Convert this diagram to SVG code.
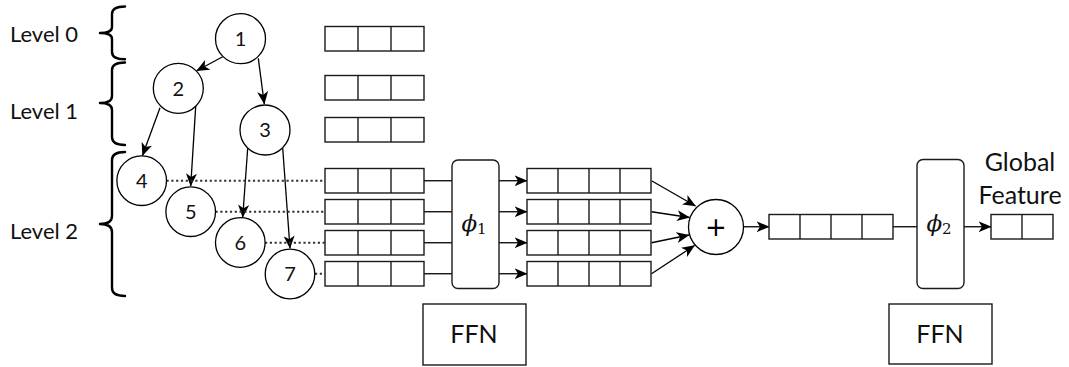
<svg xmlns="http://www.w3.org/2000/svg" width="1069" height="367" viewBox="0 0 1069 367">
<defs>
<marker id="arr" markerUnits="userSpaceOnUse" markerWidth="13" markerHeight="11" viewBox="0 0 13 11" refX="12.5" refY="5.5" orient="auto">
<path d="M0,0 L13,5.5 L0,11 L3.5,5.5 z" fill="#000"/>
</marker>
<g id="cell3">
<rect x="0" y="0" width="99" height="24.5"/>
<line x1="33" y1="0" x2="33" y2="24.5"/>
<line x1="66" y1="0" x2="66" y2="24.5"/>
</g>
<g id="cell4">
<rect x="0" y="0" width="124" height="24.5"/>
<line x1="31" y1="0" x2="31" y2="24.5"/>
<line x1="62" y1="0" x2="62" y2="24.5"/>
<line x1="93" y1="0" x2="93" y2="24.5"/>
</g>
</defs>
<style>
.b{fill:#fff;stroke:#1a1a1a;stroke-width:1.4}
.c{fill:#fff;stroke:#000;stroke-width:1.3}
.br{fill:none;stroke:#000;stroke-width:2.4;stroke-linecap:round;stroke-linejoin:round}
.lv{font-family:Lato,"Noto Sans",sans-serif;font-size:22px;fill:#111}
.lb{font-family:Lato,"Noto Sans",sans-serif;font-size:25px;fill:#111;text-anchor:middle}
.nd{font-family:Lato,"Noto Sans",sans-serif;font-size:20px;fill:#111;text-anchor:middle}
.ph{font-family:"DejaVu Serif",serif;font-style:italic;font-size:23px;fill:#111;text-anchor:middle}
.sub{font-style:normal;font-size:15px}
.a{fill:none;stroke:#000;stroke-width:1.3;marker-end:url(#arr)}
.l{fill:none;stroke:#000;stroke-width:1.3}
.d{fill:none;stroke:#333;stroke-width:2;stroke-dasharray:2.2 2.6}
</style>

<g id="levels">
<text class="lv" x="10" y="41.7">Level 0</text>
<text class="lv" x="10" y="118.7">Level 1</text>
<text class="lv" x="10" y="239.3">Level 2</text>
<path class="br" d="M125,6.5 Q112,6.5 112,14 L112,27 Q112,33 100,33 Q112,33 112,39 L112,52 Q112,59.3 125,59.3"/>
<path class="br" d="M125,62.5 Q112,62.5 112,70 L112,96 Q112,103 100,103 Q112,103 112,110 L112,137 Q112,145 125,145"/>
<path class="br" d="M125,152 Q112,152 112,160 L112,216 Q112,224 100,224 Q112,224 112,232 L112,288 Q112,296 125,296"/>
</g>

<g id="connectors">
<line class="a" x1="222.7" y1="56.7" x2="196.7" y2="70.7"/>
<line class="a" x1="258.3" y1="58.3" x2="264.3" y2="104"/>
<line class="a" x1="160" y1="107.7" x2="142.5" y2="155.5"/>
<line class="a" x1="195.7" y1="106" x2="190.7" y2="186"/>
<line class="a" x1="247.7" y1="148.3" x2="242.7" y2="217.3"/>
<line class="a" x1="282.7" y1="148.3" x2="290" y2="248.3"/>
<line class="d" x1="166.5" y1="180.75" x2="325" y2="180.75"/>
<line class="d" x1="215.5" y1="211.75" x2="325" y2="211.75"/>
<line class="d" x1="265" y1="242.75" x2="325" y2="242.75"/>
<line class="d" x1="315" y1="273.75" x2="325" y2="273.75"/>
<line class="l" x1="424" y1="180.75" x2="452" y2="180.75"/>
<line class="l" x1="424" y1="211.75" x2="452" y2="211.75"/>
<line class="l" x1="424" y1="242.75" x2="452" y2="242.75"/>
<line class="l" x1="424" y1="273.75" x2="452" y2="273.75"/>
<line class="a" x1="499" y1="180.75" x2="527" y2="180.75"/>
<line class="a" x1="499" y1="211.75" x2="527" y2="211.75"/>
<line class="a" x1="499" y1="242.75" x2="527" y2="242.75"/>
<line class="a" x1="499" y1="273.75" x2="527" y2="273.75"/>
<line class="a" x1="651.5" y1="180.75" x2="695.5" y2="206"/>
<line class="a" x1="651.5" y1="211.75" x2="689.5" y2="217.5"/>
<line class="a" x1="651.5" y1="242.75" x2="689" y2="235"/>
<line class="a" x1="651.5" y1="273.75" x2="694.5" y2="245.5"/>
<line class="a" x1="743.5" y1="226.75" x2="769" y2="226.75"/>
<line class="l" x1="893" y1="226.75" x2="917" y2="226.75"/>
<line class="a" x1="964" y1="226.75" x2="991" y2="226.75"/>
</g>

<g id="node1"><circle class="c" cx="240.5" cy="38.7" r="25"/><text class="nd" x="240.5" y="46">1</text></g>
<g id="node2"><circle class="c" cx="178.3" cy="88.3" r="25"/><text class="nd" x="178.3" y="95.6">2</text></g>
<g id="node3"><circle class="c" cx="265" cy="130" r="25"/><text class="nd" x="265" y="137.3">3</text></g>
<g id="node4"><circle class="c" cx="141.7" cy="180.7" r="24.8"/><text class="nd" x="141.7" y="188">4</text></g>
<g id="node5"><circle class="c" cx="190.7" cy="211.7" r="24.8"/><text class="nd" x="190.7" y="219">5</text></g>
<g id="node6"><circle class="c" cx="240.3" cy="242.5" r="24.8"/><text class="nd" x="240.3" y="249.8">6</text></g>
<g id="node7"><circle class="c" cx="290" cy="274" r="24.8"/><text class="nd" x="290" y="281.3">7</text></g>

<g id="emb0" class="b"><use href="#cell3" x="325" y="26.5"/></g>
<g id="emb1" class="b"><use href="#cell3" x="325" y="75.5"/></g>
<g id="emb2" class="b"><use href="#cell3" x="325" y="117.5"/></g>
<g id="emb3" class="b"><use href="#cell3" x="325" y="168.5"/></g>
<g id="emb4" class="b"><use href="#cell3" x="325" y="199.5"/></g>
<g id="emb5" class="b"><use href="#cell3" x="325" y="230.5"/></g>
<g id="emb6" class="b"><use href="#cell3" x="325" y="261.5"/></g>

<g id="phi1"><rect class="b" x="452" y="160" width="47" height="128.5" rx="6"/><text class="ph" x="474" y="230.5">ϕ<tspan class="sub" dy="3">1</tspan></text></g>
<g id="ffn1"><rect class="b" x="423" y="304" width="103" height="61"/><text class="lb" x="474" y="342.5">FFN</text></g>

<g id="hid0" class="b"><use href="#cell4" x="527" y="168.5"/></g>
<g id="hid1" class="b"><use href="#cell4" x="527" y="199.5"/></g>
<g id="hid2" class="b"><use href="#cell4" x="527" y="230.5"/></g>
<g id="hid3" class="b"><use href="#cell4" x="527" y="261.5"/></g>

<g id="plus"><circle class="c" cx="716" cy="227" r="27.5"/><text x="716" y="236" style="font-family:'DejaVu Sans',sans-serif;font-size:26px;text-anchor:middle;fill:#000">+</text></g>

<g id="sum" class="b"><use href="#cell4" x="769" y="214.5"/></g>

<g id="phi2"><rect class="b" x="917" y="159.5" width="47" height="129" rx="6"/><text class="ph" x="939" y="230.5">ϕ<tspan class="sub" dy="3">2</tspan></text></g>
<g id="ffn2"><rect class="b" x="889" y="304" width="103" height="60"/><text class="lb" x="940" y="342.5">FFN</text></g>

<g id="out"><rect class="b" x="991" y="214.5" width="62" height="24.5"/><line class="b" x1="1022" y1="214.5" x2="1022" y2="239"/>
<text class="lb" x="1020" y="170.5">Global</text>
<text class="lb" x="1020" y="203.5">Feature</text></g>
</svg>
